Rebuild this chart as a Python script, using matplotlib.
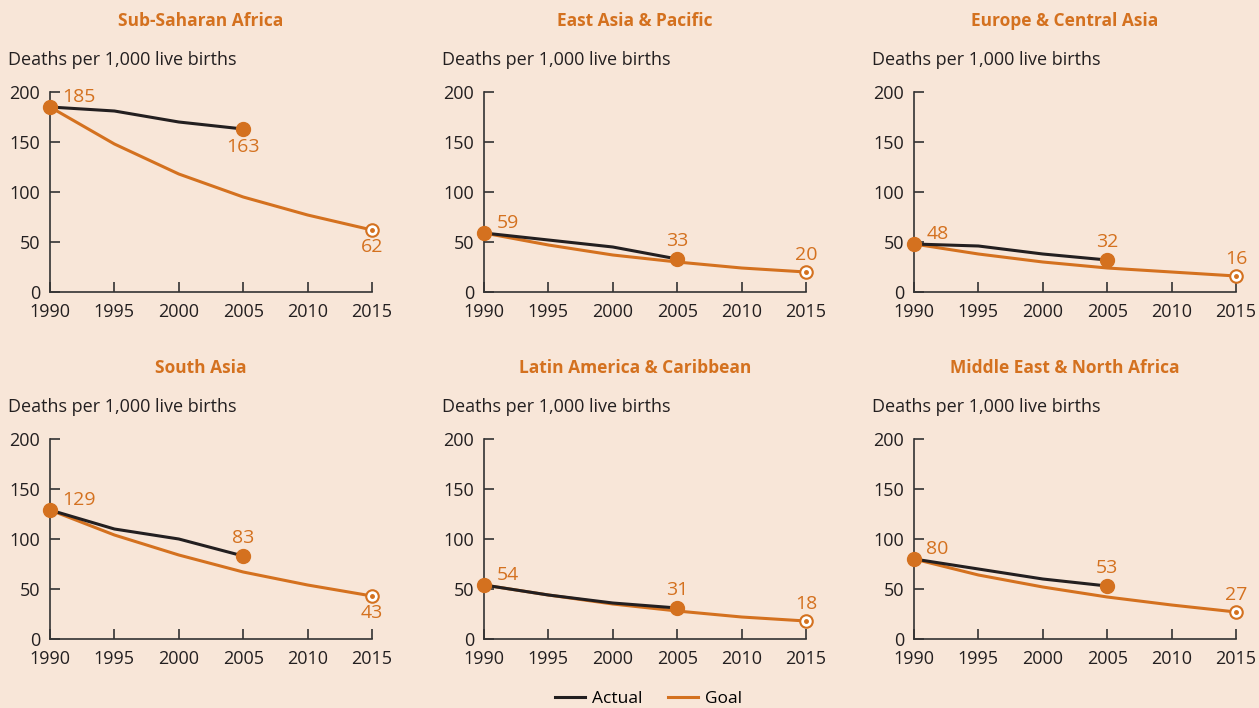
import matplotlib.pyplot as plt

plt.rcParams['font.family'] = ['Open Sans', 'DejaVu Sans']

BG = '#F8E6D8'
ORANGE = '#D4711F'
DARK = '#231F20'

regions = ['Sub-Saharan Africa', 'East Asia & Pacific', 'Europe & Central Asia',
           'South Asia', 'Latin America & Caribbean', 'Middle East & North Africa']

actual_years = [1990, 1995, 2000, 2005]
goal_years = [1990, 1995, 2000, 2005, 2010, 2015]

actual = [
    [185, 181, 170, 163],
    [59, 52, 45, 33],
    [48, 46, 38, 32],
    [129, 110, 100, 83],
    [54, 44, 36, 31],
    [80, 70, 60, 53],
]
goal = [
    [185, 148, 118, 95, 77, 62],
    [59, 47, 37, 30, 24, 20],
    [48, 38, 30, 24, 20, 16],
    [129, 104, 84, 67, 54, 43],
    [54, 44, 35, 28, 22, 18],
    [80, 64, 52, 42, 34, 27],
]
# whether the 2015 goal label sits below the point
goal_label_below = [True, False, False, True, False, False]
# whether the 2005 actual label sits below the point
actual_label_below = [True, False, False, False, False, False]

W, H = 1259, 708
fig = plt.figure(figsize=(W / 100, H / 100), dpi=100, facecolor=BG)

lefts = [50, 484, 914]
bottoms = [292, 639]
aw, ah = 322, 200

for i, name in enumerate(regions):
    r, c = divmod(i, 3)
    x0, y0 = lefts[c], bottoms[r]
    ax = fig.add_axes([x0 / W, (H - y0) / H, aw / W, ah / H])
    ax.patch.set_alpha(0)
    ax.set_xlim(1990, 2015)
    ax.set_ylim(0, 200)
    for s in ['top', 'right']:
        ax.spines[s].set_visible(False)
    for s in ['left', 'bottom']:
        ax.spines[s].set_color('#333333')
        ax.spines[s].set_linewidth(1.2)
    ax.set_xticks(goal_years)
    ax.set_yticks([0, 50, 100, 150, 200])
    ax.tick_params(direction='in', length=7, width=1.2, color='#333333',
                   labelsize=13, labelcolor=DARK)
    ax.tick_params(axis='x', pad=8)
    ax.tick_params(axis='y', pad=7)

    ax.plot(goal_years, goal[i], color=ORANGE, lw=2.2, clip_on=False, zorder=3)
    ax.plot(actual_years, actual[i], color=DARK, lw=2.2, clip_on=False, zorder=4)
    ax.plot([actual_years[0], actual_years[-1]], [actual[i][0], actual[i][-1]], 'o',
            color=ORANGE, ms=10, clip_on=False, zorder=5)
    ax.plot(goal_years[-1], goal[i][-1], 'o', mfc='white', mec=ORANGE, mew=1.5,
            ms=9, clip_on=False, zorder=5)
    ax.plot(goal_years[-1], goal[i][-1], 'o', color=ORANGE, ms=2.5,
            clip_on=False, zorder=6)

    ax.annotate(str(actual[i][0]), (1990, actual[i][0]), xytext=(9, 7),
                textcoords='offset points', color=ORANGE, fontsize=14,
                ha='left', va='center')
    dy = -13 if actual_label_below[i] else 13
    ax.annotate(str(actual[i][-1]), (2005, actual[i][-1]), xytext=(0, dy),
                textcoords='offset points', color=ORANGE, fontsize=14,
                ha='center', va='center')
    dy = -12 if goal_label_below[i] else 12
    ax.annotate(str(goal[i][-1]), (2015, goal[i][-1]), xytext=(0, dy),
                textcoords='offset points', color=ORANGE, fontsize=14,
                ha='center', va='center')

    fig.text((x0 + aw / 2 - 10) / W, (H - (y0 - ah - 71)) / H, name, color=ORANGE,
             fontsize=12.5, fontweight='bold', ha='center', va='center')
    fig.text((x0 - 42) / W, (H - (y0 - ah - 32)) / H, 'Deaths per 1,000 live births',
             color=DARK, fontsize=13, ha='left', va='center')

handles = [plt.Line2D([], [], color=DARK, lw=2.2),
           plt.Line2D([], [], color=ORANGE, lw=2.2)]
fig.legend(handles, ['Actual', 'Goal'], loc='center', bbox_to_anchor=(0.515, 1 - 699 / H),
           ncol=2, frameon=False, fontsize=12.5, handlelength=1.7, handletextpad=0.4,
           columnspacing=1.5)

fig.savefig('out.png', dpi=100, facecolor=BG)
